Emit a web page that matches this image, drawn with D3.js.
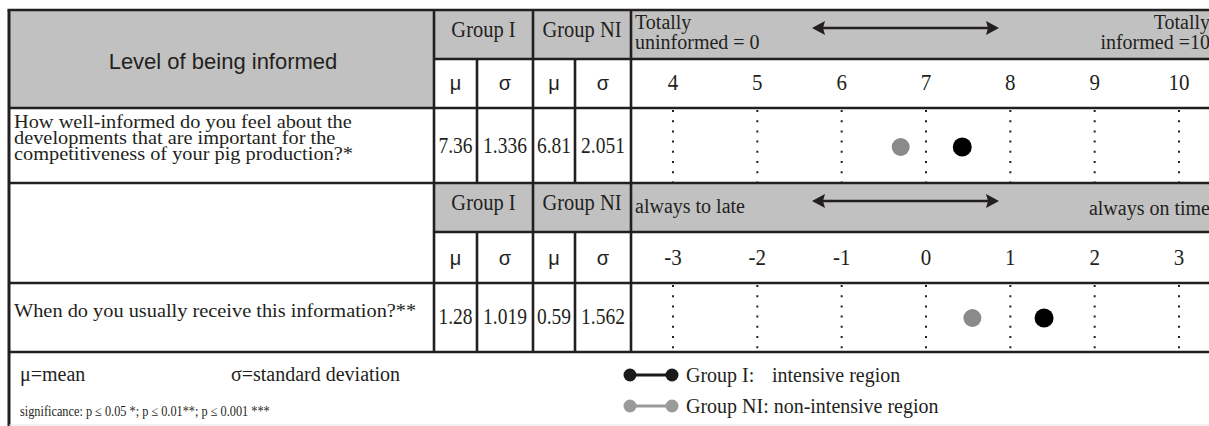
<!DOCTYPE html>
<html>
<head>
<meta charset="utf-8">
<script src="https://cdn.jsdelivr.net/npm/d3@7"></script>
<style>
  html, body { margin: 0; padding: 0; background: #fff; overflow: hidden; }
</style>
</head>
<body>
<div id="chart"></div>
<script>
// Data
const scaleTicks1 = [4, 5, 6, 7, 8, 9, 10];
const scaleTicks2 = [-3, -2, -1, 0, 1, 2, 3];
const questions = [
    ["How well-informed do you feel about the", "developments that are important for the", "competitiveness of your pig production?*"],
    ["When do you usually receive this information?**"]
];
const groupIMean = ["7.36", "1.28"];
const groupISd = ["1.336", "1.019"];
const groupNIMean = ["6.81", "0.59"];
const groupNISd = ["2.051", "1.562"];
// where the dots sit on each scale
const groupIDot = [7.43, 1.40];
const groupNIDot = [6.70, 0.55];
const scaleEnds = [
    { left: ["Totally", "uninformed = 0"], right: ["Totally", "informed =10"] },
    { left: ["always to late"], right: ["always on time"] }
];

const W = 1209, H = 426;
const ink = "#231f20", grey = "#c1c1c1";
const serif = "'Liberation Serif', 'Times New Roman', serif";
const sans = "'Liberation Sans', Arial, sans-serif";

const svg = d3.select("#chart").append("svg")
    .attr("width", W).attr("height", H);

// column edges
const xL = 9, xQ = 434, xM1 = 477, xS1 = 533, xM2 = 575, xSc = 631, xR = 1220;
// each section: header top, sub-header, data row, bottom
const sections = [
    { top: 10, mid: 59, row: 108, bot: 183, greyLeft: true },
    { top: 183, mid: 232, row: 283, bot: 352, greyLeft: false }
];

const x1 = d3.scaleLinear().domain([4, 10]).range([673, 1179]);
const x2 = d3.scaleLinear().domain([-3, 3]).range([673, 1179]);
const scales = [x1, x2];
const ticks = [scaleTicks1, scaleTicks2];

// grey fills
sections.forEach((s, i) => {
    if (s.greyLeft) svg.append("rect").attr("x", xL).attr("y", s.top).attr("width", xQ - xL).attr("height", s.row - s.top).attr("fill", grey);
    svg.append("rect").attr("x", xQ).attr("y", s.top).attr("width", xR - xQ).attr("height", s.mid - s.top).attr("fill", grey);
});

// dotted guides in data rows
sections.forEach((s, i) => {
    svg.append("g").selectAll("line")
        .data(ticks[i])
        .join("line")
        .attr("x1", d => scales[i](d)).attr("x2", d => scales[i](d))
        .attr("y1", s.row + 2).attr("y2", s.bot)
        .attr("stroke", ink).attr("stroke-width", 2)
        .attr("stroke-dasharray", "2 8.2");
});

// grid lines
const grid = svg.append("g").attr("stroke", ink).attr("stroke-width", 2.6);
const hline = (xa, xb, y) => grid.append("line").attr("x1", xa).attr("x2", xb).attr("y1", y).attr("y2", y);
const vline = (x, ya, yb) => grid.append("line").attr("x1", x).attr("x2", x).attr("y1", ya).attr("y2", yb);

hline(xL - 1.5, xR, 10);
sections.forEach(s => {
    hline(xQ, xR, s.mid);
    hline(xL, xR, s.row);
    hline(xL, xR, s.bot);
    [xQ, xSc].forEach(x => vline(x, s.top, s.bot));
    [xM1, xM2].forEach(x => vline(x, s.mid, s.bot));
    vline(xS1, s.top, s.bot);
});
vline(xL, 10, H).attr("stroke-width", 3);
svg.append("line").attr("x1", xL).attr("x2", W).attr("y1", 425).attr("y2", 425)
    .attr("stroke", "#e2e2e2").attr("stroke-width", 1);

// headers
svg.append("text").attr("x", 223).attr("y", 69).attr("text-anchor", "middle")
    .attr("font-family", sans).attr("font-size", 22).attr("fill", ink)
    .text("Level of being informed");

// text placed through a transform so it can be stretched like the source
const cellText = (x, y, t, opts = {}) => svg.append("text")
    .attr("transform", `translate(${x},${y}) scale(${opts.sx || 1},${opts.sy || 1})`)
    .attr("text-anchor", opts.anchor || "middle")
    .attr("font-family", opts.family || serif)
    .attr("font-size", opts.size || 20)
    .attr("fill", ink)
    .text(t);

sections.forEach((s, i) => {
    const gy = s.mid - 22;
    cellText((xQ + xS1) / 2, gy, "Group I", { size: 20.5, sy: 1.12 });
    cellText((xS1 + xSc) / 2, gy, "Group NI", { size: 20.5, sy: 1.12 });
    const my = s.row - 18;
    [[xQ, xM1, "μ"], [xM1, xS1, "σ"], [xS1, xM2, "μ"], [xM2, xSc, "σ"]].forEach(([a, b, t]) =>
        cellText((a + b) / 2, my, t, { family: sans, size: 20 }));

    // scale tick labels
    svg.append("g").selectAll("text")
        .data(ticks[i])
        .join("text")
        .attr("transform", d => `translate(${scales[i](d)},${s.row - 18}) scale(1,1.08)`)
        .attr("text-anchor", "middle")
        .attr("font-family", serif).attr("font-size", 21).attr("fill", ink)
        .text(d => d < 0 ? "-" + Math.abs(d) : d);

    // scale ends
    const ends = scaleEnds[i];
    const twoLine = ends.left.length > 1;
    ends.left.forEach((t, k) => cellText(635, twoLine ? s.top + 19 + k * 20 : s.top + 30, t, { anchor: "start", size: 20 }));
    ends.right.forEach((t, k) => cellText(1210, twoLine ? s.top + 19 + k * 20 : s.top + 32, t, { anchor: "end", size: 20 }));

    // arrow
    const ay = s.top + 18;
    const ax1 = 812, ax2 = 999;
    svg.append("line").attr("x1", ax1 + 8).attr("x2", ax2 - 8).attr("y1", ay).attr("y2", ay)
        .attr("stroke", ink).attr("stroke-width", 2.6);
    svg.append("path").attr("d", `M${ax1},${ay} L${ax1 + 13},${ay - 7} L${ax1 + 11},${ay} L${ax1 + 13},${ay + 7} Z`).attr("fill", ink);
    svg.append("path").attr("d", `M${ax2},${ay} L${ax2 - 13},${ay - 7} L${ax2 - 11},${ay} L${ax2 - 13},${ay + 7} Z`).attr("fill", ink);

    // data row
    const numY = i === 0 ? 153 : 324;
    const numOpts = { size: 19.5, sy: 1.15 };
    cellText((xQ + xM1) / 2, numY, groupIMean[i], numOpts);
    cellText((xM1 + xS1) / 2, numY, groupISd[i], numOpts);
    cellText((xS1 + xM2) / 2, numY, groupNIMean[i], numOpts);
    cellText((xM2 + xSc) / 2, numY, groupNISd[i], numOpts);

    // question, one text with a tspan per line, widened a little like the source
    const qy0 = i === 0 ? 128 : 317;
    svg.append("text")
        .attr("transform", `translate(14,${qy0}) scale(1.1,1)`)
        .attr("font-family", serif).attr("font-size", 18.5).attr("fill", ink)
        .selectAll("tspan")
        .data(questions[i])
        .join("tspan")
        .attr("x", 0)
        .attr("y", (d, k) => k * 16)
        .text(d => d);

    const cy = i === 0 ? 147 : 318;
    svg.append("circle").attr("cx", scales[i](groupNIDot[i])).attr("cy", cy).attr("r", 9).attr("fill", "#8a8a8a");
    svg.append("circle").attr("cx", scales[i](groupIDot[i])).attr("cy", cy).attr("r", 9.5).attr("fill", "#000");
});

// footer notes
cellText(20, 381, "μ=mean", { anchor: "start", size: 20, sy: 1.08 });
cellText(231, 381, "σ=standard deviation", { anchor: "start", size: 20, sy: 1.08 });
cellText(20, 416, "significance: p ≤ 0.05 *; p ≤ 0.01**; p ≤ 0.001 ***", { anchor: "start", size: 12.3, sy: 1.15 });

// legend
const legend = [
    { y: 375, color: "#1a1a1a", label: "Group I:", desc: "intensive region", descX: 772 },
    { y: 406, color: "#9a9a9a", label: "Group NI:", desc: "non-intensive region", descX: null }
];
legend.forEach(l => {
    svg.append("line").attr("x1", 630).attr("x2", 672).attr("y1", l.y).attr("y2", l.y)
        .attr("stroke", l.color).attr("stroke-width", 3);
    [630, 672].forEach(cx => svg.append("circle").attr("cx", cx).attr("cy", l.y).attr("r", 6.5).attr("fill", l.color));
    if (l.descX) {
        cellText(686, l.y + 7, l.label, { anchor: "start", size: 20, sy: 1.08 });
        cellText(l.descX, l.y + 7, l.desc, { anchor: "start", size: 20, sy: 1.08 });
    } else {
        cellText(686, l.y + 7, l.label + " " + l.desc, { anchor: "start", size: 20, sy: 1.08 });
    }
});
</script>
</body>
</html>
